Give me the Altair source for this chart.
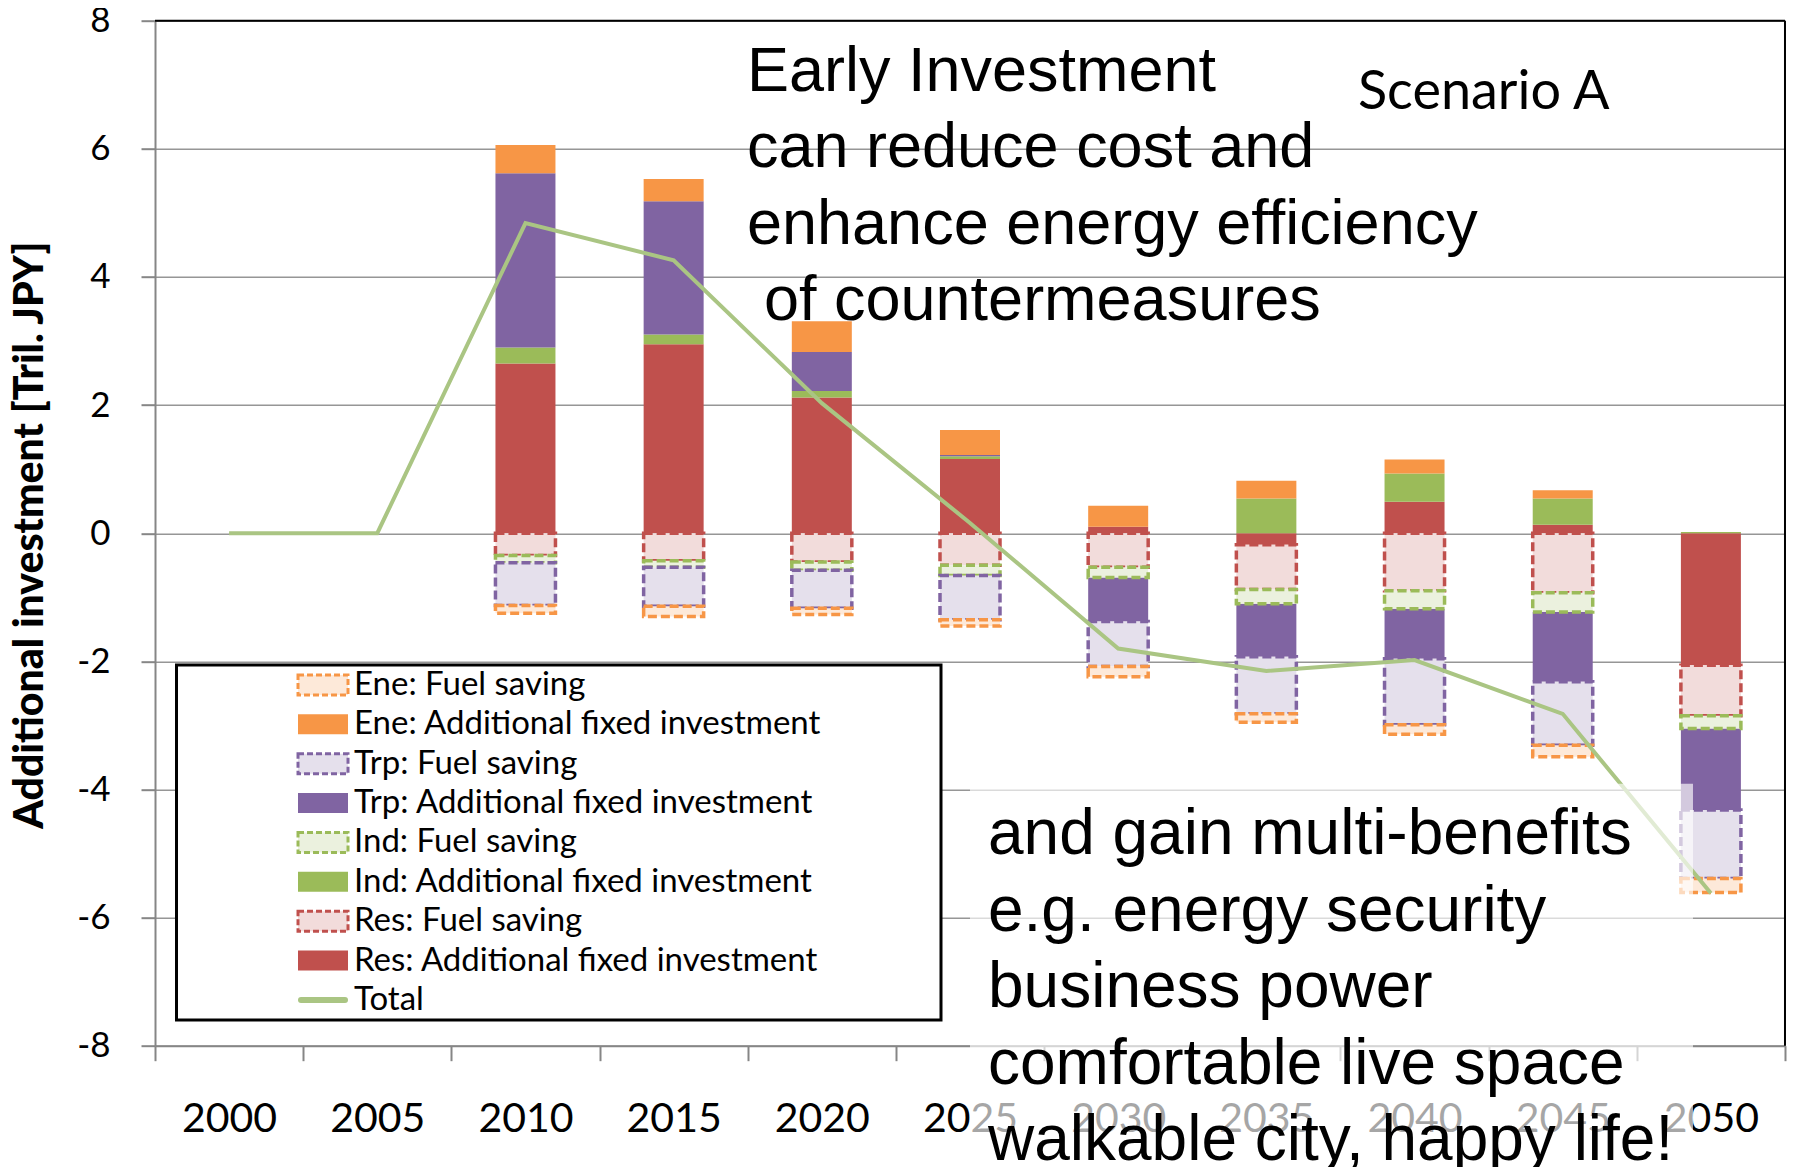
import altair as alt
import pandas as pd

years = [2000, 2005, 2010, 2015, 2020, 2025, 2030, 2035, 2040, 2045, 2050]

res_fixed = [0, 0, 2.65, 2.95, 2.12, 1.16, 0.10, -0.18, 0.49, 0.13, -2.06]
res_fuel = [0, 0, -0.35, -0.43, -0.45, -0.50, -0.53, -0.70, -0.90, -0.93, -0.79]
ind_fixed = [0, 0, 0.25, 0.15, 0.10, 0.04, 0.0, 0.54, 0.44, 0.41, 0.02]
ind_fuel = [0, 0, -0.11, -0.10, -0.13, -0.16, -0.16, -0.22, -0.28, -0.30, -0.20]
trp_fixed = [0, 0, 2.72, 2.08, 0.61, 0.02, -0.69, -0.83, -0.78, -1.09, -1.27]
trp_fuel = [0, 0, -0.67, -0.61, -0.59, -0.69, -0.70, -0.89, -1.03, -0.99, -1.07]
ene_fixed = [0, 0, 0.44, 0.35, 0.48, 0.39, 0.33, 0.28, 0.22, 0.13, 0.0]
ene_fuel = [0, 0, -0.12, -0.16, -0.10, -0.10, -0.16, -0.13, -0.15, -0.18, -0.22]
total = [0, 0, 4.84, 4.26, 2.03, 0.16, -1.80, -2.15, -1.98, -2.82, -5.62]

series_labels = [
    "Res: Additional fixed investment", "Res: Fuel saving",
    "Ind: Additional fixed investment", "Ind: Fuel saving",
    "Trp: Additional fixed investment", "Trp: Fuel saving",
    "Ene: Additional fixed investment", "Ene: Fuel saving",
]
series_values = [res_fixed, res_fuel, ind_fixed, ind_fuel,
                 trp_fixed, trp_fuel, ene_fixed, ene_fuel]
series_kind = ["fixed", "fuel", "fixed", "fuel", "fixed", "fuel", "fixed", "fuel"]
fill_colors = ["#C0504D", "#F2DCDB", "#9BBB59", "#EBF1DE",
               "#8064A2", "#E5E0EC", "#F79646", "#FDE9D9"]
stroke_colors = ["#C0504D", "#C0504D", "#9BBB59", "#9BBB59",
                 "#8064A2", "#8064A2", "#F79646", "#F79646"]
total_color = "#AAC583"

legend_labels = [
    "Ene: Fuel saving", "Ene: Additional fixed investment",
    "Trp: Fuel saving", "Trp: Additional fixed investment",
    "Ind: Fuel saving", "Ind: Additional fixed investment",
    "Res: Fuel saving", "Res: Additional fixed investment",
    "Total",
]
legend_kind = ["fuel", "fixed", "fuel", "fixed", "fuel", "fixed", "fuel", "fixed", "line"]

y_ticks = [-8, -6, -4, -2, 0, 2, 4, 6, 8]

top_text = ["Early Investment", "can reduce cost and", "enhance energy efficiency"]
top_text_last = "of countermeasures"
bottom_text = ["and gain multi-benefits", "e.g. energy security", "business power",
               "comfortable live space", "walkable city, happy life!"]
scenario_text = "Scenario A"

# ---- tables ----
rows = []
for i, (lab, vals, kind) in enumerate(zip(series_labels, series_values, series_kind)):
    for yr, v in zip(years, vals):
        rows.append({"year": yr, "series": lab, "value": v, "order": i, "kind": kind})
bars_df = pd.DataFrame(rows)
total_df = pd.DataFrame({"year": years, "total": total})
legend_df = pd.DataFrame({"label": legend_labels, "kind": legend_kind})
dummy = pd.DataFrame({"k": [0]})

W, H = 1630, 1025
BAR_W = 60

xscale = alt.Scale(paddingInner=0, paddingOuter=0)
xaxis = alt.Axis(title=None, labelAngle=0, labelFont="Lato", labelFontSize=41,
                 labelColor="black", labelPadding=39, tickSize=15, tickBand="extent",
                 tickColor="#868686", tickWidth=2, domainColor="#868686", domainWidth=2,
                 grid=False, zindex=0)
X = alt.X("year:O", scale=xscale, axis=xaxis)

yscale = alt.Scale(domain=[-8, 8], nice=False, zero=False)
yaxis = alt.Axis(values=y_ticks, title="Additional investment [Tril. JPY]",
                 titleFont="Lato", titleFontWeight=900, titleFontSize=41,
                 titleColor="black", titleX=-125, titleY=514, titleAngle=270,
                 titleAlign="center", titleBaseline="middle",
                 labelFont="Lato", labelFontSize=35, labelColor="black",
                 labelPadding=31, tickSize=14, tickColor="#868686", tickWidth=2,
                 domainColor="#868686", domainWidth=2, gridColor="#969696",
                 gridWidth=1.5,
                 labelExpr="datum.value < 0 ? '-' + abs(datum.value) : '' + datum.value",
                 zindex=0)

fill_scale = alt.Scale(domain=series_labels, range=fill_colors)
stroke_scale = alt.Scale(domain=series_labels, range=stroke_colors)

base = alt.Chart(bars_df).transform_filter("datum.value != 0").transform_stack(
    stack="value", groupby=["year"], as_=["v0", "v1"],
    sort=[alt.SortField("order", order="ascending")], offset="zero")

fixed_bars = base.transform_filter("datum.kind == 'fixed'").mark_bar(
    strokeWidth=0, width=BAR_W).encode(
    x=X,
    y=alt.Y("v1:Q", scale=yscale, axis=yaxis),
    y2="v0:Q",
    fill=alt.Fill("series:N", scale=fill_scale, legend=None),
)
fuel_bars = base.transform_filter("datum.kind == 'fuel'").mark_bar(
    strokeWidth=3.5, strokeDash=[9, 4], width=BAR_W).encode(
    x=X,
    y=alt.Y("v1:Q", scale=yscale, axis=yaxis),
    y2="v0:Q",
    fill=alt.Fill("series:N", scale=fill_scale, legend=None),
    stroke=alt.Stroke("series:N", scale=stroke_scale, legend=None),
)
total_line = alt.Chart(total_df).mark_line(color=total_color, strokeWidth=4).encode(
    x=X,
    y=alt.Y("total:Q", scale=yscale, axis=yaxis),
)
main = alt.layer(fixed_bars, fuel_bars, total_line)

fade_box = alt.Chart(dummy).mark_rect(fill="white", opacity=0.65).encode(
    x=alt.value(815), x2=alt.value(1538), y=alt.value(763), y2=alt.value(H + 140))

txt_top = alt.Chart(dummy).mark_text(
    text=top_text, font="Liberation Sans", fontSize=63, lineHeight=76.5,
    align="left", baseline="top", color="black").encode(x=alt.value(592), y=alt.value(20))
txt_top_last = alt.Chart(dummy).mark_text(
    text=top_text_last, font="Liberation Sans", fontSize=63,
    align="left", baseline="top", color="black").encode(x=alt.value(609), y=alt.value(249.3))
txt_bottom = alt.Chart(dummy).mark_text(
    text=bottom_text, font="Liberation Sans", fontSize=64, lineHeight=76.5,
    align="left", baseline="top", color="black").encode(x=alt.value(833), y=alt.value(782.5))
txt_scen = alt.Chart(dummy).mark_text(
    text=scenario_text, font="Lato", fontSize=54, align="left",
    baseline="alphabetic", color="black").encode(x=alt.value(1203), y=alt.value(88.3))

# ---- legend ----
Yleg = alt.Y("label:N", scale=alt.Scale(type="point", domain=legend_labels,
                                         range=[664.3, 979.3], padding=0), axis=None)
rect_path = "M-1,-0.4L1,-0.4L1,0.4L-1,0.4Z"
leg_box = alt.Chart(dummy).mark_rect(fill="white", stroke="black", strokeWidth=3).encode(
    x=alt.value(21.5), x2=alt.value(786), y=alt.value(644.3), y2=alt.value(999.3))
leg_fixed = alt.Chart(legend_df).transform_filter("datum.kind == 'fixed'").mark_point(
    shape=rect_path, size=2500, filled=True, opacity=1, strokeWidth=0).encode(
    x=alt.value(168), y=Yleg,
    fill=alt.Fill("label:N", scale=fill_scale, legend=None))
leg_fuel = alt.Chart(legend_df).transform_filter("datum.kind == 'fuel'").mark_point(
    shape=rect_path, size=2500, filled=True, opacity=1, strokeWidth=3,
    strokeDash=[6, 3]).encode(
    x=alt.value(168), y=Yleg,
    fill=alt.Fill("label:N", scale=fill_scale, legend=None),
    stroke=alt.Stroke("label:N", scale=stroke_scale, legend=None))
leg_line = alt.Chart(legend_df).transform_filter("datum.kind == 'line'").mark_rule(
    color=total_color, strokeWidth=6, strokeCap="round").encode(
    x=alt.value(146), x2=alt.value(190), y=Yleg)
leg_text = alt.Chart(legend_df).mark_text(
    align="left", baseline="middle", font="Lato", fontSize=33, color="black").encode(
    x=alt.value(199), y=Yleg, text="label:N")
legend = alt.layer(leg_box, leg_fixed, leg_fuel, leg_line, leg_text)

border_top = alt.Chart(dummy).mark_rule(color="black", strokeWidth=2).encode(
    x=alt.value(0), x2=alt.value(W), y=alt.value(0))
border_right = alt.Chart(dummy).mark_rule(color="black", strokeWidth=2).encode(
    x=alt.value(W), y=alt.value(0), y2=alt.value(H))

chart = alt.layer(
    main, fade_box, txt_top, txt_top_last, txt_bottom, txt_scen, legend,
    border_top, border_right,
).resolve_scale(y="independent").properties(
    width=W, height=H,
    padding={"left": 147, "top": 12.7, "right": 7, "bottom": 121},
    autosize=alt.AutoSizeParams(type="none"),
).configure_view(stroke=None)

chart.save("out.html", embed_options={"renderer": "svg", "actions": False})
